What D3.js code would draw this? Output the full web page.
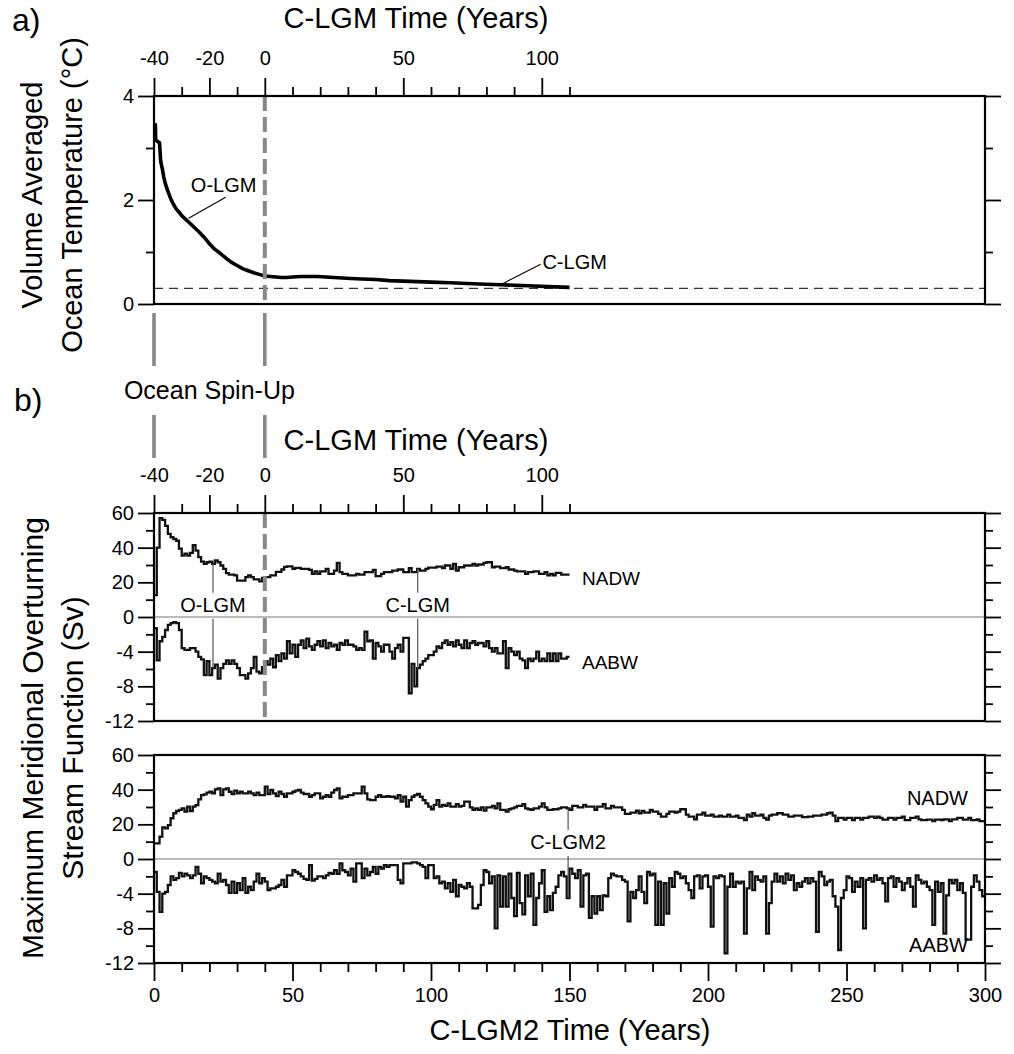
<!DOCTYPE html>
<html>
<head>
<meta charset="utf-8">
<script src="https://cdn.jsdelivr.net/npm/d3@7"></script>
<style>
html,body{margin:0;padding:0;background:#fff;}
svg{display:block;}
</style>
</head>
<body>
<svg id="chart" width="1014" height="1054"></svg>
<script>
// ---------------- DATA ----------------
// Panel a: volume averaged ocean temperature (C-LGM time, years)
const tempYears = [-40,-39.5,-39.4,-38,-37.6,-37,-36.5,-36,-35,-34,-33,-32,-31,-30,-28,-26,-24,-22,-20,-18,-16,-14,-12,-10,-8,-6,-4,-2,0,2,4,6,8,10,13,16,19,22,25,28,31,35,40,45,50,55,60,67,75,85,95,105,110];
const tempVals  = [3.45,3.45,3.15,3.1,2.75,2.6,2.45,2.33,2.17,2.03,1.92,1.83,1.77,1.70,1.6,1.5,1.4,1.29,1.16,1.05,0.97,0.88,0.80,0.74,0.68,0.64,0.60,0.57,0.54,0.53,0.52,0.51,0.51,0.52,0.53,0.53,0.53,0.52,0.51,0.50,0.49,0.48,0.47,0.45,0.44,0.43,0.42,0.41,0.39,0.37,0.35,0.33,0.32];
const tempRef = 0.3;

// Panel b: annual values, C-LGM2 years 0..149
const nadwB = [12.6,40,57,56,52.6,48,46,45,44,39.4,35.4,36.5,35.4,37,41.5,38.3,34.5,32,30.7,31.6,
32,30.7,32.6,31.6,29.7,27.8,25.3,24.5,24.5,24,21,21,21,23,24,23,21.7,21.7,20.6,22.5,
23,23,24,24,26,26,27.4,28.9,29.2,29.2,27.8,28.3,28.3,27.8,27.8,27.8,27.2,24.9,26.3,24.9,
26.3,26.3,27.8,24.9,24.9,26.8,31.2,25.9,24.9,24.9,24,24,24,24.9,24.4,24.4,25.9,25.9,25.9,27.2,
23.6,23.6,24.9,25.9,25.9,25.9,26.8,26.8,27.4,27.4,25.9,25.9,28.2,25.9,25.9,27.8,26.8,26.8,27.8,28.5,
28.5,28.5,29.1,29.1,28.2,29.7,29.7,27.8,30.7,26.8,28.7,28.7,29.7,29.7,29.7,30.7,29.7,30.3,30.3,31.2,
31.6,31.6,28.7,29.1,29.1,28.2,28.2,28.7,27.4,27.4,26.8,26.3,26.3,26.3,24.9,25.9,25.9,26.3,26.3,24.9,
24.9,25.9,24,24.9,24,25.5,25.5,24.4,24.4,24.4];
const aabwB = [-1.3,-5.0,-2.8,-2.3,-1.5,-0.9,-0.7,-0.6,-0.7,-1.5,-3.6,-3.8,-3.8,-3.6,-3.6,-4.0,-4.6,-4.9,-6.7,-5.1,
-6.7,-5.9,-5.5,-7.1,-5.9,-5.4,-5.0,-5.4,-5.0,-5.4,-5.9,-6.7,-6.7,-7.1,-6.5,-5.9,-4.6,-6.3,-6.5,-5.8,
-5.1,-5.5,-4.8,-5.8,-4.4,-5.1,-4.2,-4.8,-2.8,-4.2,-3.2,-4.6,-3.2,-2.7,-3.6,-2.5,-3.4,-3.8,-3.2,-2.8,
-3.4,-2.7,-3.6,-3.0,-3.4,-3.2,-3.8,-3.0,-3.2,-2.7,-3.2,-3.2,-3.4,-3.8,-3.6,-3.8,-1.7,-2.8,-2.7,-4.8,
-3.0,-3.4,-4.0,-3.2,-3.2,-4.0,-4.8,-3.6,-3.2,-4.0,-2.4,-2.4,-8.8,-5.4,-8.0,-5.9,-5.5,-5.1,-4.8,-4.4,
-4.4,-4.0,-3.4,-3.6,-3.0,-2.7,-3.2,-2.9,-3.4,-2.7,-3.2,-3.6,-2.7,-3.6,-3.0,-2.8,-3.2,-3.0,-3.0,-3.4,
-2.8,-3.6,-4.0,-3.6,-4.2,-4.2,-2.8,-5.9,-3.6,-4.0,-4.4,-4.0,-4.8,-5.0,-5.9,-4.8,-5.1,-4.8,-4.0,-5.1,
-4.8,-5.1,-4.2,-5.1,-4.2,-5.1,-4.2,-4.8,-4.8,-4.6];

// Panel c: annual values, C-LGM2 years 0..299
const nadwC = [9,9,12.9,18.3,17.7,19.6,23.5,26.4,27.7,28.3,29.2,27.3,30.2,27.7,30.2,31.1,34.4,36.9,37.3,38.3,
38.8,37.9,40.2,40.8,36.9,40.2,40.8,38.8,37.5,39.4,37.9,38.8,37.9,37.9,38.8,37.9,36.9,38.3,36.9,36.9,
41.7,37.5,39.8,37.9,36.3,38.8,37.5,35.9,37.9,37.9,38.8,39.4,39.8,38.3,37.5,37.5,35.9,36.9,37.9,37.9,
35.0,35.9,36.9,35.9,38.3,39.8,40.8,35.0,35.9,35.9,36.9,36.9,37.9,37.9,37.9,41.7,37.9,34.4,34.0,34.0,
35.9,36.9,35.9,35.9,36.3,35.9,35.9,35.0,36.9,33.1,35.9,30.2,34.0,35.9,36.9,37.5,35.9,34.0,32.1,30.2,
28.7,31.2,34.0,30.2,31.2,30.6,32.1,30.2,30.2,31.7,30.2,30.6,33.1,33.1,29.8,28.3,29.2,28.3,29.8,27.9,
29.8,29.8,30.6,29.2,32.1,28.3,28.3,27.3,28.7,29.2,29.8,30.6,30.6,31.7,29.2,28.7,28.3,29.2,29.2,30.2,
32.1,29.8,28.3,28.3,28.7,28.7,29.2,29.8,29.8,29.2,28.3,30.6,30.6,29.8,29.8,31.2,30.2,30.2,30.2,28.3,
30.2,30.2,31.7,29.2,29.2,30.6,29.8,29.8,29.8,28.3,26.0,26.0,26.8,26.8,27.9,26.4,27.7,26.8,26.8,28.3,
27.3,27.3,26.0,24.4,24.4,26.0,27.3,27.3,26.8,27.3,28.7,28.7,25.6,24.4,24.4,22.9,25.6,25.6,26.8,25.0,
25.0,25.6,24.4,24.4,25.0,24.4,24.4,25.6,24.4,24.4,25.0,23.7,23.7,22.4,25.6,24.4,26.4,25.0,25.0,25.6,
23.7,22.7,25.0,25.6,25.6,26.4,26.4,25.6,25.6,24.4,24.4,25.0,25.0,25.0,24.2,24.2,24.4,24.4,25.0,25.0,
25.0,25.6,25.6,26.4,26.8,25.0,21.9,23.7,23.7,22.7,23.7,23.7,22.4,23.7,23.7,22.7,23.7,23.7,24.4,24.4,
23.7,24.4,23.7,22.7,22.7,23.7,23.7,22.7,23.7,23.7,24.4,22.4,22.4,23.7,23.7,24.4,22.9,22.4,22.4,22.7,
22.7,21.9,22.7,22.7,22.4,22.9,22.9,21.9,22.9,22.9,23.7,23.7,22.7,22.7,23.7,22.4,22.4,22.9,21.9,21.9];
const aabwC = [-1.5,-3.8,-6.1,-4.0,-3.8,-3.0,-2.0,-2.4,-2.2,-1.6,-2.0,-1.7,-1.9,-2.2,-1.9,-0.9,-1.7,-2.8,-2.0,-2.2,
-2.4,-2.6,-2.8,-1.7,-2.6,-2.4,-3.0,-3.9,-2.6,-3.9,-2.8,-3.6,-2.2,-3.9,-3.2,-3.6,-2.6,-1.7,-2.8,-2.2,
-2.6,-3.6,-3.4,-3.4,-3.2,-3.0,-2.4,-3.2,-1.9,-1.9,-1.3,-1.5,-1.7,-2.0,-2.3,-2.4,-0.7,-2.5,-2.3,-2.0,
-2.0,-2.2,-1.9,-1.6,-1.7,-1.3,-1.7,-0.5,-1.3,-1.5,-1.9,-1.1,-2.6,-0.5,-0.5,-2.2,-1.1,-1.9,-1.5,-0.9,
-1.7,-0.9,-1.1,-0.7,-0.9,-0.7,-0.7,-0.7,-2.4,-2.8,-0.5,-0.5,-0.5,-0.4,-0.4,-0.5,-0.7,-0.9,-2.2,-0.7,
-0.7,-2.2,-2.0,-2.8,-2.6,-3.4,-2.8,-3.8,-2.4,-4.3,-3.0,-3.2,-3.4,-2.8,-3.2,-5.7,-5.7,-5.3,-3.0,-1.3,
-1.5,-2.8,-2.0,-8.0,-1.9,-5.5,-2.0,-5.5,-1.7,-4.5,-6.6,-1.6,-5.1,-6.4,-1.9,-4.3,-1.7,-7.6,-4.5,-2.8,
-1.3,-6.1,-4.3,-5.9,-3.9,-3.2,-1.9,-1.5,-2.0,-4.5,-1.1,-1.7,-2.2,-1.3,-5.5,-1.9,-1.7,-6.8,-4.3,-6.3,
-4.3,-5.9,-4.2,-4.3,-2.2,-1.7,-1.9,-2.0,-2.0,-2.4,-2.6,-7.2,-3.8,-4.5,-3.6,-2.0,-3.8,-5.1,-1.5,-1.9,
-1.7,-7.6,-2.6,-7.6,-2.8,-6.3,-2.2,-3.2,-1.5,-1.7,-2.2,-2.0,-2.8,-3.6,-4.5,-2.0,-1.9,-3.4,-2.0,-1.9,
-3.2,-7.8,-2.0,-2.2,-1.9,-2.0,-10.9,-3.2,-1.7,-3.2,-2.6,-2.8,-2.6,-8.6,-3.4,-1.5,-3.6,-2.0,-2.4,-2.6,
-2.0,-8.6,-5.1,-2.6,-1.7,-2.6,-2.0,-2.8,-1.7,-2.4,-1.9,-3.6,-2.8,-3.2,-2.6,-2.2,-2.8,-2.2,-2.6,-8.4,
-1.5,-2.0,-3.0,-2.6,-2.4,-4.3,-5.5,-10.5,-4.5,-3.6,-2.0,-2.2,-3.8,-2.6,-3.2,-2.2,-8.0,-2.4,-2.2,-2.6,
-1.9,-2.4,-2.2,-2.8,-4.9,-2.2,-2.0,-3.2,-2.2,-2.6,-3.6,-2.8,-2.2,-3.2,-5.5,-1.9,-2.4,-2.8,-2.6,-3.2,
-3.6,-7.6,-2.6,-3.8,-2.8,-8.6,-4.2,-2.4,-2.8,-2.4,-3.6,-2.8,-3.9,-9.3,-9.3,-3.2,-1.9,-2.6,-3.6,-4.3];

// Tick values
const topMajor = [-40,-20,0,50,100];
const topMinor = [-30,-10,10,20,30,40,60,70,80,90,110];
const tempMajor = [0,2,4];
const tempMinor = [1,3];
const sfMajor = [60,40,20,0,-4,-8,-12];
const sfMinor = [50,30,10,-2,-6,-10];
const botMajor = [0,50,100,150,200,250,300];
const botMinor = [10,20,30,40,60,70,80,90,110,120,130,140,160,170,180,190,210,220,230,240,260,270,280,290];
const spinUpEdges = [-40,0];   // C-LGM time of spin-up start / end

// ---------------- DRAW ----------------
const FONT = "'Liberation Sans', Arial, Helvetica, sans-serif";
const svg = d3.select('#chart');
svg.append('rect').attr('width',1014).attr('height',1054).attr('fill','#fff');

const L = 154, R = 985;
const xA = d3.scaleLinear().domain([-40,260]).range([L,R]);   // C-LGM time
const xB = d3.scaleLinear().domain([0,300]).range([L,R]);     // C-LGM2 time
const yA = d3.scaleLinear().domain([0,4]).range([304,96]);
const yB = d3.scaleLinear().domain([-12,0,60]).range([721,617,513]);
const yC = d3.scaleLinear().domain([-12,0,60]).range([963,859,755]);

function styleAxis(g, fs){
  g.select('.domain').remove();
  g.selectAll('line').attr('stroke','#000').attr('stroke-width',1.8);
  g.selectAll('text').attr('font-family',FONT).attr('font-size',fs||20).attr('fill','#000');
  g.attr('font-family',null).attr('font-size',null);
}
const fmt = d => String(d);

function addTopAxis(y, pad){
  svg.append('g').attr('transform',`translate(0,${y})`)
    .call(d3.axisTop(xA).tickValues(topMajor).tickSize(18).tickPadding(pad).tickFormat(fmt)).call(styleAxis);
  svg.append('g').attr('transform',`translate(0,${y})`)
    .call(d3.axisTop(xA).tickValues(topMinor).tickSize(9).tickFormat('')).call(styleAxis);
}
function addSideAxes(yScale, major, minor){
  svg.append('g').attr('transform',`translate(${L},0)`)
    .call(d3.axisLeft(yScale).tickValues(major).tickSize(16).tickPadding(4).tickFormat(fmt)).call(styleAxis);
  svg.append('g').attr('transform',`translate(${L},0)`)
    .call(d3.axisLeft(yScale).tickValues(minor).tickSize(8).tickFormat('')).call(styleAxis);
  svg.append('g').attr('transform',`translate(${R},0)`)
    .call(d3.axisRight(yScale).tickValues(major).tickSize(16).tickFormat('')).call(styleAxis);
  svg.append('g').attr('transform',`translate(${R},0)`)
    .call(d3.axisRight(yScale).tickValues(minor).tickSize(8).tickFormat('')).call(styleAxis);
}
function frame(yScale){
  const y0 = yScale.range()[0], y1 = yScale.range()[yScale.range().length-1];
  svg.append('rect').attr('x',L).attr('y',y1).attr('width',R-L).attr('height',y0-y1)
    .attr('fill','none').attr('stroke','#000').attr('stroke-width',2.2);
}
function text(x,y,str,opts){
  opts = opts||{};
  const t = svg.append('text').attr('x',x).attr('y',y).text(str)
    .attr('font-family',FONT).attr('font-size',opts.fs||20).attr('fill','#000')
    .attr('text-anchor',opts.anchor||'middle').attr('dominant-baseline','central');
  if(opts.rot) t.attr('transform',`rotate(${opts.rot},${x},${y})`);
  return t;
}

// ----- Panel a -----
svg.append('line').attr('x1',L).attr('x2',R).attr('y1',yA(tempRef)).attr('y2',yA(tempRef))
  .attr('stroke','#333').attr('stroke-width',1.4).attr('stroke-dasharray','9,6');
const tempLine = d3.line().x((d,i)=>xA(tempYears[i])).y(d=>yA(d));
svg.append('path').attr('d',tempLine(tempVals)).attr('fill','none')
  .attr('stroke','#000').attr('stroke-width',3.6).attr('stroke-linejoin','round');
svg.append('line').attr('x1',xA(0)).attr('x2',xA(0)).attr('y1',yA(4)).attr('y2',yA(0))
  .attr('stroke','#888').attr('stroke-width',4).attr('stroke-dasharray','15,6');
frame(yA);
addTopAxis(yA(4), 13);
addSideAxes(yA, tempMajor, tempMinor);

(function(){
  const px = xA(-27.5), py = yA(1.65);
  svg.append('line').attr('x1',px).attr('y1',py).attr('x2',px+37).attr('y2',py-21).attr('stroke','#000').attr('stroke-width',1.1);
  text(px+35, py-33, 'O-LGM', {fs:20});
  const qx = xA(85.5), qy = yA(0.38);
  svg.append('line').attr('x1',qx).attr('y1',qy).attr('x2',qx+39).attr('y2',qy-20).attr('stroke','#000').attr('stroke-width',1.1);
  text(qx+73, qy-22, 'C-LGM', {fs:20});
})();

text(416, 18, 'C-LGM Time (Years)', {fs:29});
text(12, 20, 'a)', {fs:32, anchor:'start'});
text(32, 195, 'Volume Averaged', {fs:29, rot:-90});
text(72, 195, 'Ocean Temperature (°C)', {fs:29, rot:-90});

// ----- spin-up connectors -----
spinUpEdges.forEach(t => {
  [[313,366],[415,458]].forEach(([a,b]) => {
    svg.append('line').attr('x1',xA(t)).attr('x2',xA(t)).attr('y1',a).attr('y2',b)
      .attr('stroke','#888').attr('stroke-width',3.6);
  });
});
text((xA(-40)+xA(0))/2, 390, 'Ocean Spin-Up', {fs:25});
text(14, 400, 'b)', {fs:32, anchor:'start'});
text(416, 440, 'C-LGM Time (Years)', {fs:29});

function stepPath(vals, yScale){
  const pts = vals.map((v,i)=>[i,v]);
  pts.push([vals.length, vals[vals.length-1]]);
  return d3.line().curve(d3.curveStepAfter).x(d=>xB(d[0])).y(d=>yScale(d[1]))(pts);
}

// ----- Panel b -----
svg.append('line').attr('x1',L).attr('x2',R).attr('y1',yB(0)).attr('y2',yB(0)).attr('stroke','#777').attr('stroke-width',1.2);
[nadwB, aabwB].forEach(s => svg.append('path').attr('d',stepPath(s,yB)).attr('fill','none')
  .attr('stroke','#111').attr('stroke-width',2.3));
svg.append('line').attr('x1',xA(0)).attr('x2',xA(0)).attr('y1',yB(60)).attr('y2',yB(-12))
  .attr('stroke','#888').attr('stroke-width',4).attr('stroke-dasharray','15,6');
frame(yB);
addTopAxis(yB(60), 13);
addSideAxes(yB, sfMajor, sfMinor);

function annot(label, yr, nArr, aArr, yScale, labelVal){
  const x = xB(yr), i = Math.floor(yr);
  const ly = yScale(labelVal);
  svg.append('line').attr('x1',x).attr('x2',x).attr('y1',yScale(nArr[i])).attr('y2',ly-12).attr('stroke','#555').attr('stroke-width',1.2);
  svg.append('line').attr('x1',x).attr('x2',x).attr('y1',ly+14).attr('y2',yScale(aArr[i])).attr('stroke','#555').attr('stroke-width',1.2);
  text(x, ly, label, {fs:20});
}
annot('O-LGM', 21.3, nadwB, aabwB, yB, 7);
annot('C-LGM', 95.2, nadwB, aabwB, yB, 7);
text(582, 578, 'NADW', {fs:19, anchor:'start'});
text(582, 662, 'AABW', {fs:19, anchor:'start'});

// ----- Panel c -----
svg.append('line').attr('x1',L).attr('x2',R).attr('y1',yC(0)).attr('y2',yC(0)).attr('stroke','#777').attr('stroke-width',1.2);
[nadwC, aabwC].forEach(s => svg.append('path').attr('d',stepPath(s,yC)).attr('fill','none')
  .attr('stroke','#111').attr('stroke-width',2.3));
frame(yC);
addSideAxes(yC, sfMajor, sfMinor);
svg.append('g').attr('transform',`translate(0,${yC(-12)})`)
  .call(d3.axisBottom(xB).tickValues(botMajor).tickSize(18).tickPadding(7).tickFormat(fmt)).call(styleAxis);
svg.append('g').attr('transform',`translate(0,${yC(-12)})`)
  .call(d3.axisBottom(xB).tickValues(botMinor).tickSize(9).tickFormat('')).call(styleAxis);
annot('C-LGM2', 149.5, nadwC, aabwC, yC, 9.8);
text(968, 798, 'NADW', {fs:20, anchor:'end'});
text(968, 945, 'AABW', {fs:20, anchor:'end'});

text(570, 1030, 'C-LGM2 Time (Years)', {fs:29});
text(32, 738, 'Maximum Meridional Overturning', {fs:30, rot:-90});
text(72, 738, 'Stream Function (Sv)', {fs:30, rot:-90});
</script>
</body>
</html>
